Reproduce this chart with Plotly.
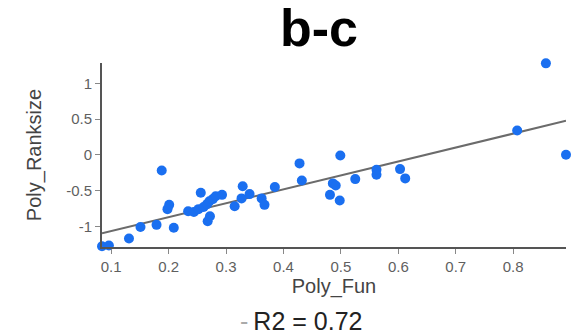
import plotly.graph_objects as go

# ---- data ----
poly_fun = [0.084, 0.096, 0.131, 0.151, 0.179, 0.188, 0.201, 0.198, 0.209, 0.234,
            0.244, 0.252, 0.256, 0.261, 0.267, 0.271, 0.277, 0.282, 0.268, 0.272,
            0.293, 0.315, 0.329, 0.327, 0.341, 0.362, 0.367, 0.385, 0.428, 0.432,
            0.481, 0.486, 0.491, 0.499, 0.498, 0.525, 0.562, 0.562, 0.603, 0.612,
            0.807, 0.857, 0.892]
poly_ranksize = [-1.28, -1.27, -1.17, -1.01, -0.98, -0.22, -0.70, -0.76, -1.02, -0.79,
                 -0.80, -0.76, -0.53, -0.73, -0.69, -0.65, -0.62, -0.58, -0.93, -0.86,
                 -0.56, -0.72, -0.44, -0.61, -0.55, -0.61, -0.70, -0.45, -0.12, -0.36,
                 -0.56, -0.40, -0.43, -0.01, -0.64, -0.34, -0.28, -0.21, -0.20, -0.33,
                 0.34, 1.28, 0.00]
fit_slope = 1.947
fit_intercept = -1.261
r2_label = "R2 = 0.72"

x_tickvals = [0.1, 0.2, 0.3, 0.4, 0.5, 0.6, 0.7, 0.8]
x_ticktext = ["0.1", "0.2", "0.3", "0.4", "0.5", "0.6", "0.7", "0.8"]
y_tickvals = [-1, -0.5, 0, 0.5, 1]
y_ticktext = ["-1", "-0.5", "0", "0.5", "1"]

x_min, x_max = min(poly_fun), max(poly_fun)
fit_x = [x_min, x_max]
fit_y = [fit_intercept + fit_slope * v for v in fit_x]

FONT = "Liberation Sans, Arial, sans-serif"

fig = go.Figure()
fig.add_trace(go.Scatter(
    x=fit_x, y=fit_y, mode="lines",
    line=dict(color="#6b6b6b", width=2),
    showlegend=False, hoverinfo="skip", cliponaxis=False,
))
fig.add_trace(go.Scatter(
    x=poly_fun, y=poly_ranksize, mode="markers",
    marker=dict(color="#1a6ff0", size=10, line=dict(width=0)),
    showlegend=False, cliponaxis=False,
))

fig.update_layout(
    width=585, height=336,
    margin=dict(l=102, r=19, t=63, b=89),
    paper_bgcolor="white", plot_bgcolor="white",
    font=dict(family=FONT, color="#444444"),
    title=dict(text="<b>b-c</b>", x=319 / 585, xanchor="center",
               y=1 - 28 / 336, yanchor="middle", yref="container",
               font=dict(family=FONT, size=52, color="#000000")),
    xaxis=dict(range=[0.084, 0.892], showgrid=False, zeroline=False,
               showline=True, linecolor="#555555", linewidth=2,
               ticks="outside", ticklen=5, tickcolor="#888888",
               tickvals=x_tickvals, ticktext=x_ticktext,
               tickfont=dict(size=15, color="#5f5f5f"),
               title=dict(text="Poly_Fun", font=dict(size=20, color="#444444"),
                          standoff=5)),
    yaxis=dict(range=[-1.29, 1.285], showgrid=False, zeroline=False,
               showline=True, linecolor="#555555", linewidth=2,
               ticks="outside", ticklen=5, tickcolor="#888888",
               tickvals=y_tickvals, ticktext=y_ticktext,
               tickfont=dict(size=15, color="#5f5f5f"),
               title=dict(text="Poly_Ranksize", font=dict(size=20, color="#444444"),
                          standoff=19)),
    annotations=[dict(
        text="<span style='color:#aaaaaa'>-</span>\u2009" + r2_label,
        xref="paper", yref="paper", x=(301 - 102) / (585 - 102 - 19),
        y=-(321 - 247) / (336 - 63 - 89), xanchor="center", yanchor="middle",
        showarrow=False, font=dict(family=FONT, size=25, color="#222222"),
    )],
)

fig.write_html("out.html", config={"displayModeBar": False},
               post_script="document.body.style.margin='0';document.body.style.overflow='hidden';")
